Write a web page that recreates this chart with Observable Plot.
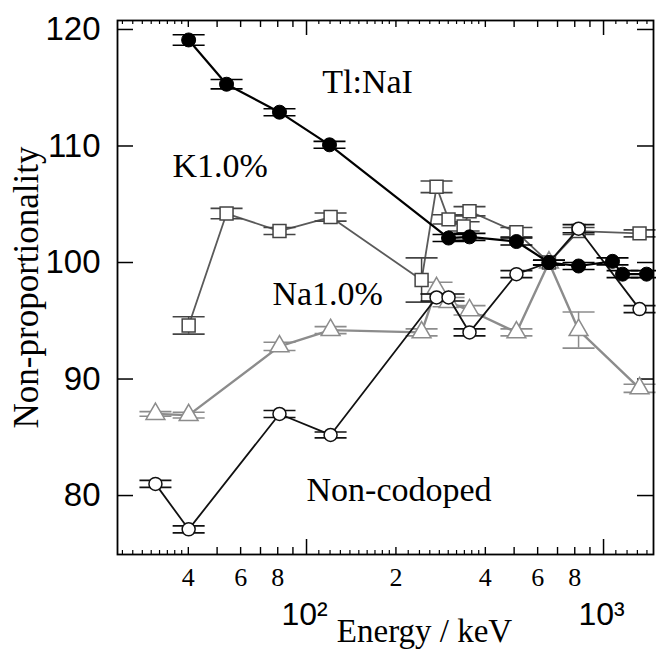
<!DOCTYPE html>
<html>
<head>
<meta charset="utf-8">
<script src="https://cdn.jsdelivr.net/npm/d3@7"></script>
<script src="https://cdn.jsdelivr.net/npm/@observablehq/plot@0.6"></script>
<style>
  html, body { margin: 0; padding: 0; background: #fff; }
  #chart svg { display: block; }
</style>
</head>
<body>
<div id="chart"></div>
<script>
// ---- Data ----
const seriesNames = ["Tl:NaI", "K1.0%", "Na1.0%", "Non-codoped"];

const tlEnergy = [40.1, 53.8, 81.1, 119.5, 300.7, 353.8, 509, 655, 824, 1072, 1159, 1396];
const tlValue  = [119.1, 115.3, 112.9, 110.1, 102.1, 102.2, 101.8, 100.0, 99.7, 100.1, 99.0, 99.0];
const tlErr    = [0.45, 0.4, 0.3, 0.3, 0.3, 0.3, 0.3, 0.2, 0.3, 0.3, 0.3, 0.3];

const kEnergy = [40.1, 53.8, 81.1, 120.5, 244, 274, 300.7, 338, 353.8, 509, 655, 824, 1322];
const kValue  = [94.6, 104.2, 102.7, 103.9, 98.5, 106.5, 103.7, 103.1, 104.4, 102.6, 100.0, 102.7, 102.5];
const kErr    = [0.75, 0.45, 0.3, 0.35, 1.9, 0.5, 0.4, 0.4, 0.4, 0.4, 0.2, 0.3, 0.3];

const naEnergy = [31.0, 40.1, 81.1, 120.5, 244, 274, 300.7, 353.8, 509, 655, 824, 1322];
const naValue  = [87.0, 86.9, 92.8, 94.2, 94.0, 97.8, 96.6, 95.9, 94.0, 100.0, 94.2, 89.2];
const naErr    = [0.2, 0.25, 0.35, 0.3, 0.3, 0.5, 0.4, 0.4, 0.3, 0.2, 1.55, 0.35];

const ncEnergy = [31.0, 40.1, 81.1, 120.5, 274, 300.7, 353.8, 509, 655, 824, 1322];
const ncValue  = [81.0, 77.1, 87.0, 85.2, 97.0, 97.0, 94.0, 99.0, 100.0, 102.9, 96.0];
const ncErr    = [0.3, 0.3, 0.3, 0.25, 0.3, 0.3, 0.3, 0.3, 0.2, 0.35, 0.3];

const yTicks = [80, 90, 100, 110, 120];
const xLabelTicks = [40, 60, 80, 200, 400, 600, 800];
const xLabelText  = ["4", "6", "8", "2", "4", "6", "8"];
const xDecadeTicks = [100, 1000];
const xDecadeText  = ["10²", "10³"];
const xMajorTicks  = [100, 1000];
const xMediumTicks = [40, 50, 60, 70, 80, 90, 200, 400, 500, 600, 700, 800, 900];
const xMinorTicks  = [24, 26, 28, 30, 32, 34, 36, 38,
                      110, 120, 130, 140, 150, 160, 170, 180, 190,
                      220, 240, 260, 280, 300, 320, 340, 360, 380,
                      1100, 1200, 1300, 1400];

const annoText   = ["Tl:NaI", "K1.0%", "Na1.0%", "Non-codoped"];
const annoEnergy = [113, 35.4, 76.8, 100];
const annoValue  = [115.5, 108.3, 97.25, 80.5];

// ---- Build tables ----
function rows(name, E, V, Er) {
  return E.map((e, i) => ({series: name, energy: e, value: V[i], err: Er[i]}));
}
const data = {
  "Tl:NaI": rows(seriesNames[0], tlEnergy, tlValue, tlErr),
  "K1.0%": rows(seriesNames[1], kEnergy, kValue, kErr),
  "Na1.0%": rows(seriesNames[2], naEnergy, naValue, naErr),
  "Non-codoped": rows(seriesNames[3], ncEnergy, ncValue, ncErr)
};
const annotations = annoText.map((t, i) => ({text: t, energy: annoEnergy[i], value: annoValue[i]}));
const xLabels = xLabelTicks.map((v, i) => ({v, t: xLabelText[i]}));
const xDecades = xDecadeTicks.map((v, i) => ({v, t: xDecadeText[i]}));

// ---- Styles ----
const style = {
  "Na1.0%":      {line: "#8c8c8c", lw: 2.4, symbol: "triangle", fill: "white", stroke: "#8c8c8c", r: 7,   sw: 1.5},
  "K1.0%":       {line: "#5a5a5a", lw: 1.8, symbol: "square",   fill: "white", stroke: "#444",    r: 7.3, sw: 1.5},
  "Non-codoped": {line: "#111",    lw: 1.8, symbol: "circle",   fill: "white", stroke: "#111",    r: 6.5, sw: 1.5},
  "Tl:NaI":      {line: "#000",    lw: 2.2, symbol: "circle",   fill: "#000",  stroke: "#000",    r: 7,   sw: 1}
};
const drawOrder = ["Na1.0%", "K1.0%", "Non-codoped", "Tl:NaI"];

const capSymbol = {
  draw(context, size) {
    const w = Math.sqrt(size / Math.PI);
    context.moveTo(-w, 0);
    context.lineTo(w, 0);
  }
};

const W = 656, H = 650, mL = 117, mR = 3, mT = 20, mB = 96;
const innerH = H - mT - mB;
const innerW = W - mL - mR;
const serif = "'Liberation Serif', 'Times New Roman', Times, serif";
const sans = "'Liberation Sans', Arial, Helvetica, sans-serif";

const seriesMarks = drawOrder.flatMap(name => {
  const s = style[name], d = data[name];
  return [
    Plot.line(d, {x: "energy", y: "value", stroke: s.line, strokeWidth: s.lw}),
    Plot.ruleX(d, {x: "energy", y1: r => r.value - r.err, y2: r => r.value + r.err, stroke: s.stroke, strokeWidth: 1.5}),
    Plot.dot(d, {x: "energy", y: r => r.value + r.err, symbol: capSymbol, r: 16, fill: "none", stroke: s.stroke, strokeWidth: 1.6}),
    Plot.dot(d, {x: "energy", y: r => r.value - r.err, symbol: capSymbol, r: 16, fill: "none", stroke: s.stroke, strokeWidth: 1.6}),
    Plot.dot(d, {x: "energy", y: "value", symbol: s.symbol, r: s.r, fill: s.fill, stroke: s.stroke, strokeWidth: s.sw})
  ];
});

const chart = Plot.plot({
  width: W, height: H,
  marginLeft: mL, marginRight: mR, marginTop: mT, marginBottom: mB,
  style: {background: "white", color: "black", fontFamily: serif},
  x: {type: "log", domain: [23.1, 1473], axis: null},
  y: {domain: [74.94, 120.77], axis: null},
  marks: [
    // inward ticks
    Plot.tickX(xMajorTicks,  {x: d => d, insetTop: innerH - 15, stroke: "black", strokeWidth: 1.5}),
    Plot.tickX(xMediumTicks, {x: d => d, insetTop: innerH - 7,  stroke: "black", strokeWidth: 1.4}),
    Plot.tickX(xMinorTicks,  {x: d => d, insetTop: innerH - 4,  stroke: "black", strokeWidth: 1.2}),
    Plot.tickX(xMajorTicks,  {x: d => d, insetBottom: innerH - 15, stroke: "black", strokeWidth: 1.5}),
    Plot.tickX(xMediumTicks, {x: d => d, insetBottom: innerH - 7,  stroke: "black", strokeWidth: 1.4}),
    Plot.tickX(xMinorTicks,  {x: d => d, insetBottom: innerH - 4,  stroke: "black", strokeWidth: 1.2}),
    Plot.tickY(yTicks, {y: d => d, insetRight: innerW - 16, stroke: "black", strokeWidth: 1.5}),
    Plot.tickY(yTicks, {y: d => d, insetLeft: innerW - 16, stroke: "black", strokeWidth: 1.5}),
    // tick labels
    Plot.text(yTicks, {y: d => d, text: d => String(d), frameAnchor: "left", textAnchor: "end", lineAnchor: "middle", dx: -17, fontSize: 33, fontFamily: sans, fill: "black"}),
    Plot.text(xLabels, {x: "v", text: "t", frameAnchor: "bottom", textAnchor: "middle", lineAnchor: "middle", dy: 23, fontSize: 26, fontFamily: serif, fill: "black"}),
    Plot.text(xDecades, {x: "v", text: "t", frameAnchor: "bottom", textAnchor: "middle", lineAnchor: "middle", dy: 60, dx: -2, fontSize: 32, fontFamily: sans, fill: "black"}),
    // series
    ...seriesMarks,
    // annotations
    Plot.text(annotations, {x: "energy", y: "value", text: "text", textAnchor: "start", lineAnchor: "middle", fontSize: 34, fontFamily: serif, fill: "black"}),
    // axis titles
    Plot.text(["Non-proportionality"], {text: d => d, frameAnchor: "left", textAnchor: "middle", lineAnchor: "middle", dx: -91, rotate: -90, fontSize: 35, fontFamily: serif, fill: "black"}),
    Plot.text(["Energy / keV"], {text: d => d, frameAnchor: "bottom", textAnchor: "middle", lineAnchor: "middle", dx: 39, dy: 77, fontSize: 33, fontFamily: serif, fill: "black"}),
    Plot.frame({stroke: "black", strokeWidth: 1.8})
  ]
});
document.getElementById("chart").appendChild(chart);
</script>
</body>
</html>
